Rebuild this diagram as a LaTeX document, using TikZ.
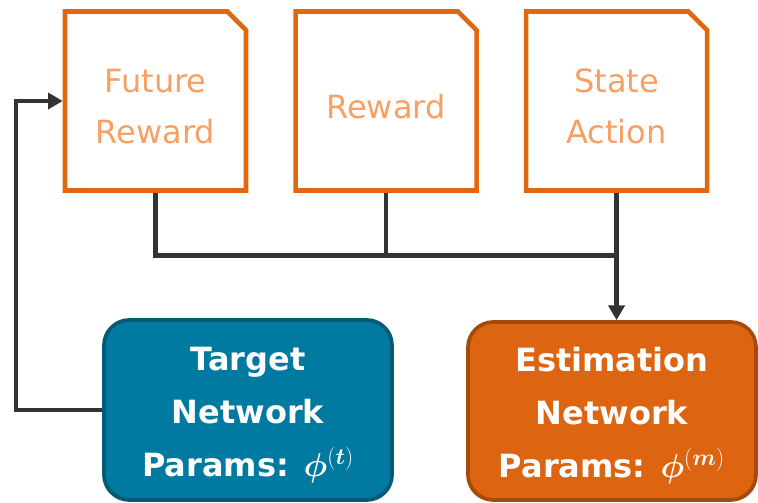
\documentclass[tikz,border=0pt]{standalone}
\usepackage{fontspec}
\setmainfont{DejaVu Sans}
\usepackage{bm}
\usetikzlibrary{positioning, arrows.meta, shapes.misc}
\definecolor{docline}{HTML}{E2680F}
\definecolor{doctext}{HTML}{F7A064}
\definecolor{tgtfill}{HTML}{017AA1}
\definecolor{tgtline}{HTML}{065A73}
\definecolor{estfill}{HTML}{DD6410}
\definecolor{estline}{HTML}{A64A0B}
\definecolor{wire}{HTML}{333333}
% strut that pushes the text block a little below the middle
\newcommand{\lift}[1][26pt]{\rule{0pt}{#1}}
\tikzset{
  doc/.style={chamfered rectangle, chamfered rectangle corners=north east,
              chamfered rectangle xsep=7pt, chamfered rectangle ysep=7pt,
              draw=docline, line width=3.4pt, fill=white, text=doctext, align=center,
              minimum width=135.75pt, minimum height=134.25pt, inner sep=0pt,
              font=\fontsize{24}{38.5}\selectfont},
  net/.style={draw, rounded corners=19pt, line width=2.8pt, text=white, align=center,
              minimum width=216pt, minimum height=135pt, inner sep=0pt,
              font=\fontsize{24}{40}\selectfont\bfseries},
  link/.style={line width=3.2pt, wire},
  ar/.style={-{Triangle[length=11pt, width=12pt]}, line width=3.2pt, wire},
}

\begin{document}
\begin{tikzpicture}[x=0.75pt, y=0.75pt, node distance=33.75pt]
  \useasboundingbox (0,0) rectangle (758,503);
  \clip (0,0) rectangle (758,503);

  % inputs
  \node[doc] (future) at (155.5,402) {\lift Future\\Reward};
  \node[doc, right=of future] (reward) {\lift Reward};
  \node[doc, right=of reward] (state) {\lift State\\Action};

  % networks
  \node[net, fill=tgtfill, draw=tgtline] (target) at (248,93)
       {\lift[25pt]Target\\Network\\Params: $\bm{\phi}^{(\bm{t})}$};
  \node[net, fill=estfill, draw=estline, minimum height=133.5pt] (estim) at (612,92)
       {\lift[25pt]Estimation\\Network\\Params: $\bm{\phi}^{(\bm{m})}$};

  \coordinate[below=47pt of reward.south] (bus);

  % inputs -> estimation
  \draw[link] (future.south) |- (bus) -- (bus -| state.south);
  \draw[link] (reward.south) -- (bus);
  \draw[ar] (state.south) -- (state.south |- estim.north);
  % target -> future reward
  \draw[ar] (target.west) -- ++(-86,0) |- (future.west);
\end{tikzpicture}
\end{document}
